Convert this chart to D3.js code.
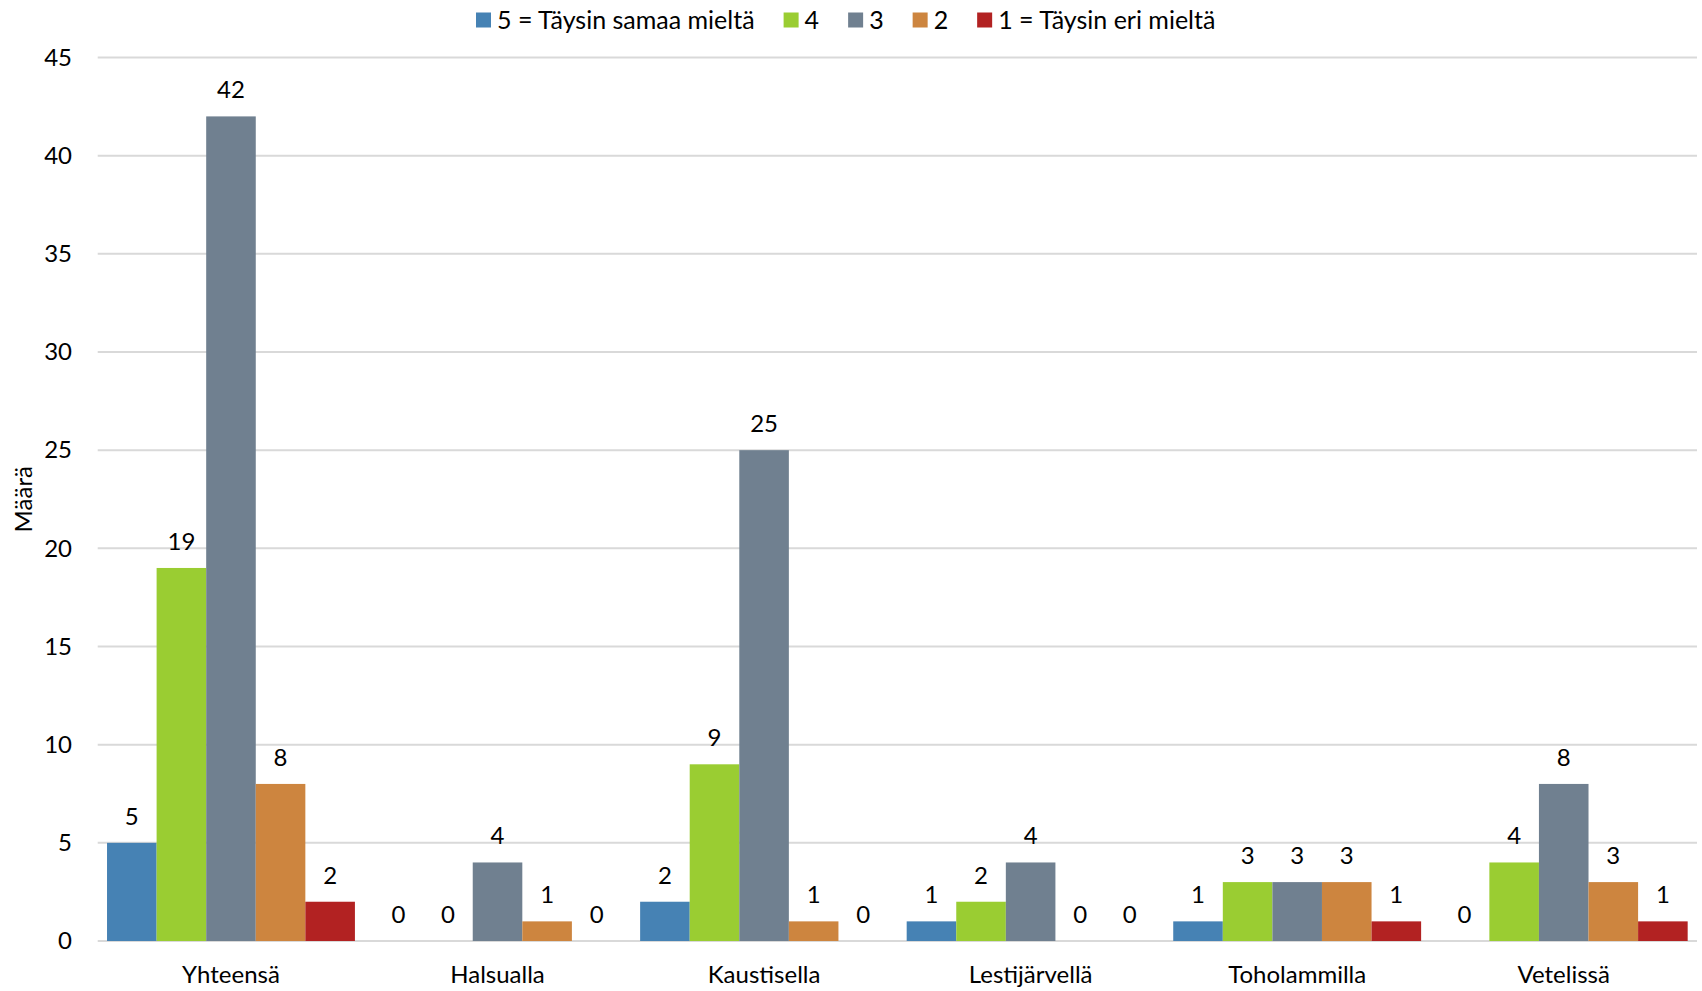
<!DOCTYPE html>
<html><head><meta charset="utf-8">
<script src="https://cdn.jsdelivr.net/npm/d3@7"></script>
<style>
html,body{margin:0;padding:0;background:#fff;}
svg{display:block;font-family:Lato,"Open Sans",sans-serif;}
</style></head>
<body>
<svg id="chart" width="1702" height="991"></svg>
<script>
const categories = ["Yhteensä","Halsualla","Kaustisella","Lestijärvellä","Toholammilla","Vetelissä"];
const seriesNames = ["5 = Täysin samaa mieltä","4","3","2","1 = Täysin eri mieltä"];
const seriesColors = ["#4682B4","#9ACD32","#708090","#CD853F","#B22222"];
const s5 = [5,0,2,1,1,0];
const s4 = [19,0,9,2,3,4];
const s3 = [42,4,25,4,3,8];
const s2 = [8,1,1,0,3,3];
const s1 = [2,0,0,0,1,1];
const yTicks = [0,5,10,15,20,25,30,35,40,45];
const yTitle = "Määrä";

(function(){
const series = [s5,s4,s3,s2,s1];
const svg = d3.select("#chart");
const pL = 97.7, pR = 1697, pT = 57.5, pB = 941;

const x0 = d3.scaleBand().domain(categories).range([pL,pR]).paddingInner(0.07).paddingOuter(0.035);
const x1 = d3.scaleBand().domain(d3.range(series.length)).range([0,x0.bandwidth()]);
const y = d3.scaleLinear().domain([0,45]).range([pB,pT]);

svg.append("g").selectAll("line").data(yTicks).join("line")
  .attr("x1",pL).attr("x2",pR)
  .attr("y1",d=>y(d)).attr("y2",d=>y(d))
  .attr("stroke","#d9d9d9").attr("stroke-width",2);

const yAxis = d3.axisLeft(y).tickValues(yTicks).tickSize(0).tickPadding(0);
const gy = svg.append("g").attr("transform","translate(72,0)").call(yAxis);
gy.select(".domain").remove();
gy.selectAll("text").attr("font-size",24).attr("font-family","Lato").attr("fill","#000");

const xAxis = d3.axisBottom(x0).tickSize(0).tickPadding(0);
const gx = svg.append("g").attr("transform",`translate(0,${pB})`).call(xAxis);
gx.select(".domain").remove();
gx.selectAll("text").attr("font-size",24).attr("font-family","Lato").attr("fill","#000").attr("dy",null).attr("y",42);

const groups = svg.append("g").selectAll("g").data(categories).join("g")
  .attr("transform",d=>`translate(${x0(d)},0)`);
groups.each(function(cat,ci){
  const g = d3.select(this);
  series.forEach((s,si)=>{
    const v = s[ci];
    if(v>0){
      g.append("rect").attr("x",x1(si)).attr("width",x1.bandwidth())
        .attr("y",y(v)).attr("height",y(0)-y(v)).attr("fill",seriesColors[si]);
    }
    g.append("text").attr("x",x1(si)+x1.bandwidth()/2).attr("y",y(v)-18)
      .attr("text-anchor","middle").attr("font-size",24).text(v);
  });
});

svg.append("text").attr("transform",`translate(32,${(pT+pB)/2}) rotate(-90)`)
  .attr("text-anchor","middle").attr("font-size",24).text(yTitle);

const leg = svg.append("g").attr("transform","translate(0,20)");
let lx = 476;
seriesNames.forEach((n,i)=>{
  leg.append("rect").attr("x",lx).attr("y",-7.5).attr("width",15).attr("height",15).attr("fill",seriesColors[i]);
  const t = leg.append("text").attr("x",lx+21).attr("y",0).attr("dy","0.35em").attr("font-size",25).text(n);
  lx += 21 + t.node().getComputedTextLength() + 29;
});
})();
</script>
</body></html>
